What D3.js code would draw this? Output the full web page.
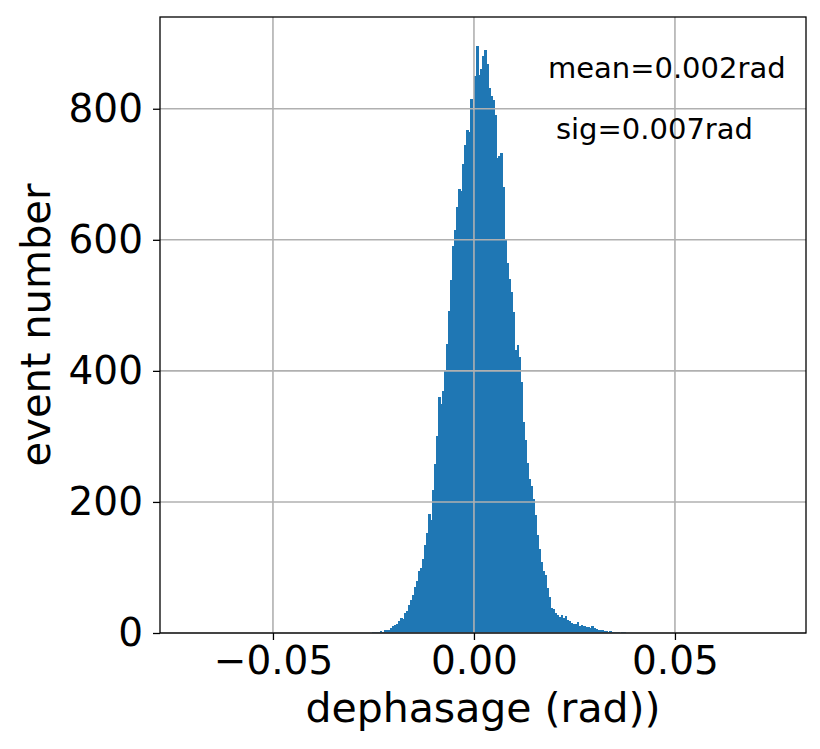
<!DOCTYPE html>
<html lang="en">
<head>
    <meta charset="UTF-8">
    <title>dephasage histogram</title>
    <style>
        html, body {
            margin: 0;
            padding: 0;
            background: #fff;
        }
        svg {
            display: block;
        }
        text {
            font-family: "DejaVu Sans", sans-serif;
            fill: #000;
        }
    </style>
    <script src="https://d3js.org/d3.v7.min.js"></script>
</head>
<body>
    <svg width="820" height="749"></svg>
    <script>
        // histogram: first bin edge and bin width (rad), then counts per bin
        var binStart = -0.0254;
        var binWidth = 0.0005;
        var counts = [
            1, 1, 2, 1, 3, 2, 4, 4, 5, 8,
            10, 12, 14, 18, 23, 22, 30, 34, 43, 51,
            58, 70, 79, 95, 99, 113, 134, 153, 181, 172,
            218, 258, 301, 360, 350, 370, 400, 441, 491, 539,
            590, 615, 650, 678, 675, 715, 745, 768, 765, 815,
            798, 850, 895, 852, 860, 880, 890, 869, 832, 820,
            814, 790, 725, 728, 733, 680, 600, 565, 540, 520,
            490, 432, 440, 421, 383, 322, 295, 259, 235, 225,
            205, 180, 150, 128, 108, 95, 88, 68, 55, 38,
            36, 30, 27, 25, 28, 23, 26, 20, 19, 15,
            14, 13, 17, 11, 12, 11, 9, 9, 8, 11,
            7, 6, 5, 4, 5, 3, 3, 2, 3, 2,
            1, 2, 1, 0, 1, 1
        ];

        var xTicks = [-0.05, 0, 0.05];
        var xTickLabels = ["\u22120.05", "0.00", "0.05"];
        var yTicks = [0, 200, 400, 600, 800];

        var notes = ["mean=0.002rad", "sig=0.007rad"];

        var svg = d3.select("svg");
        var pLeft = 160, pRight = 806, pTop = 17, pBottom = 633;

        var x = d3.scaleLinear().domain([-0.0781, 0.0826]).range([pLeft, pRight]);
        var y = d3.scaleLinear().domain([0, 940]).range([pBottom, pTop]);

        var bins = counts.map(function(c, i) {
            return { x0: binStart + i * binWidth, x1: binStart + (i + 1) * binWidth, n: c };
        });

        // bars (slight overlap so no seams show between neighbours)
        svg.append("g")
            .attr("shape-rendering", "crispEdges")
            .selectAll("rect")
            .data(bins.filter(d => d.n > 0))
            .enter().append("rect")
            .attr("x", d => x(d.x0))
            .attr("width", d => x(d.x1) - x(d.x0) + 0.6)
            .attr("y", d => y(d.n))
            .attr("height", d => y(0) - y(d.n))
            .attr("fill", "#1f77b4");

        // grid on top of bars, like matplotlib
        var grid = svg.append("g").attr("stroke", "#b0b0b0").attr("stroke-width", 1.6);
        grid.selectAll(".gx").data(xTicks).enter().append("line")
            .attr("x1", d => x(d)).attr("x2", d => x(d))
            .attr("y1", pTop).attr("y2", pBottom);
        grid.selectAll(".gy").data(yTicks).enter().append("line")
            .attr("x1", pLeft).attr("x2", pRight)
            .attr("y1", d => y(d)).attr("y2", d => y(d));

        // axes
        var xAxis = d3.axisBottom(x)
            .tickValues(xTicks)
            .tickFormat((d, i) => xTickLabels[i])
            .tickSizeOuter(0)
            .tickSize(7)
            .tickPadding(6);
        var yAxis = d3.axisLeft(y)
            .tickValues(yTicks)
            .tickFormat(d3.format("d"))
            .tickSizeOuter(0)
            .tickSize(7)
            .tickPadding(10);

        var gx = svg.append("g").attr("transform", "translate(0," + pBottom + ")").call(xAxis);
        var gy = svg.append("g").attr("transform", "translate(" + pLeft + ",0)").call(yAxis);
        [gx, gy].forEach(function(g) {
            g.select(".domain").remove();
            g.selectAll(".tick line").attr("stroke", "#000").attr("stroke-width", 1.3);
            g.selectAll(".tick text")
                .attr("fill", "#000")
                .style("font-family", "'DejaVu Sans', sans-serif")
                .style("font-size", "39px");
        });

        // spines
        svg.append("rect")
            .attr("x", pLeft).attr("y", pTop)
            .attr("width", pRight - pLeft).attr("height", pBottom - pTop)
            .attr("fill", "none")
            .attr("stroke", "#000")
            .attr("stroke-width", 1.3);

        // axis labels
        svg.append("text")
            .attr("x", (pLeft + pRight) / 2)
            .attr("y", 722)
            .attr("text-anchor", "middle")
            .style("font-size", "41px")
            .text("dephasage (rad))");

        svg.append("text")
            .attr("transform", "translate(50," + (pTop + pBottom) / 2 + ") rotate(-90)")
            .attr("text-anchor", "middle")
            .style("font-size", "40px")
            .text("event number");

        // annotations
        svg.append("text")
            .attr("x", x(0.0184)).attr("y", y(847))
            .style("font-size", "29px")
            .text(notes[0]);
        svg.append("text")
            .attr("x", x(0.0204)).attr("y", y(754))
            .style("font-size", "29px")
            .text(notes[1]);
    </script>
</body>
</html>
